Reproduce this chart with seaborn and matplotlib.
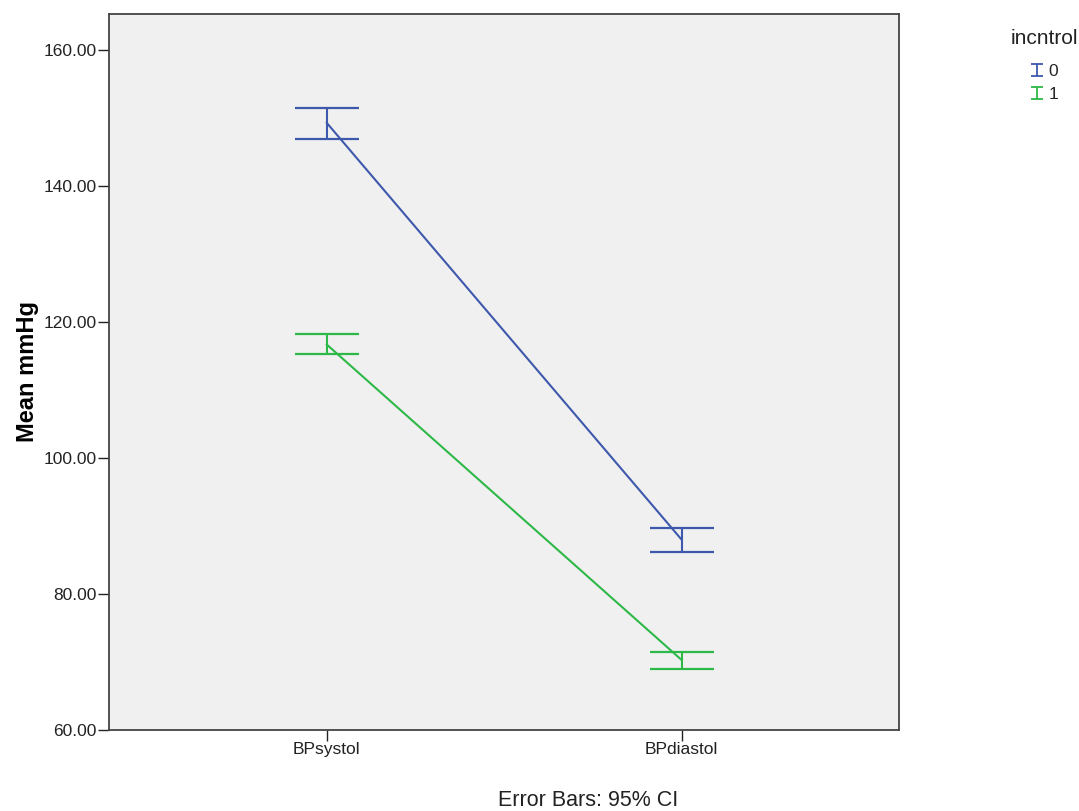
import numpy as np
import pandas as pd
import seaborn as sns
import matplotlib.pyplot as plt
from matplotlib.lines import Line2D
from matplotlib.path import Path

# summary values (mean and 95% CI bounds)
measures = ['BPsystol', 'BPdiastol']
groups = ['0', '1']
mean_0 = [149.3, 88.0]
low_0 = [146.9, 86.2]
high_0 = [151.5, 89.7]
mean_1 = [116.7, 70.3]
low_1 = [115.3, 69.0]
high_1 = [118.2, 71.5]

colors = {'0': '#3E58AC', '1': '#2EB848'}

sns.set_style('white')
plt.rcParams['font.family'] = ['Liberation Sans', 'DejaVu Sans']

df = pd.DataFrame({
    'measure': measures * 2,
    'incntrol': ['0'] * 2 + ['1'] * 2,
    'value': mean_0 + mean_1,
})

fig = plt.figure(figsize=(10.79, 8.11), dpi=100)
ax = fig.add_axes([0.101, 0.0999, 0.732, 0.883])
ax.set_facecolor('#F0F0F0')

sns.pointplot(data=df, x='measure', y='value', hue='incntrol',
              order=measures, hue_order=groups, palette=colors,
              errorbar=None, markersize=0, linewidth=1.5, legend=False, ax=ax)

for g, m, lo, hi in [('0', mean_0, low_0, high_0), ('1', mean_1, low_1, high_1)]:
    m = np.array(m)
    yerr = np.vstack([m - np.array(lo), np.array(hi) - m])
    ax.errorbar(np.arange(len(measures)), m, yerr=yerr, fmt='none',
                ecolor=colors[g], elinewidth=1.5, capsize=23, capthick=1.6)

ax.set_xlim(-0.613, 1.612)
ax.set_ylim(60, 165.3)
ax.set_yticks([60, 80, 100, 120, 140, 160])
ax.set_yticklabels(['%.2f' % t for t in [60, 80, 100, 120, 140, 160]])
ax.set_xlabel('')
ax.set_ylabel('Mean mmHg', fontsize=17, fontweight='bold', labelpad=3,
              color='black')
ax.tick_params(axis='both', labelsize=12.5, colors='#222222', length=8,
               width=1, direction='out', bottom=True, left=True, pad=1)
for s in ax.spines.values():
    s.set_color('#444444')
    s.set_linewidth(1.3)

# small "I" glyph handles like the SPSS legend
ibar = Path([(-1, 1), (1, 1), (0, 1), (0, -1), (-1, -1), (1, -1)],
            [Path.MOVETO, Path.LINETO, Path.MOVETO, Path.LINETO,
             Path.MOVETO, Path.LINETO])
handles = [Line2D([], [], color=colors[g], marker=ibar, markersize=9,
                  markerfacecolor='none', markeredgewidth=1.3,
                  linestyle='none') for g in groups]

fig.text(1044 / 1079, 1 - 38 / 811, 'incntrol', ha='center', va='center',
         fontsize=15, color='#222222')
fig.legend(handles, groups, loc='upper center',
           bbox_to_anchor=(1044 / 1079, 1 - 55 / 811), frameon=False,
           fontsize=12.5, handlelength=0.8, handletextpad=0.3,
           labelspacing=0.45, borderpad=0)

fig.text(0.545, 0.0135, 'Error Bars: 95% CI', ha='center', va='center',
         fontsize=15.5, color='#222222')

fig.savefig('out.png', dpi=100)
